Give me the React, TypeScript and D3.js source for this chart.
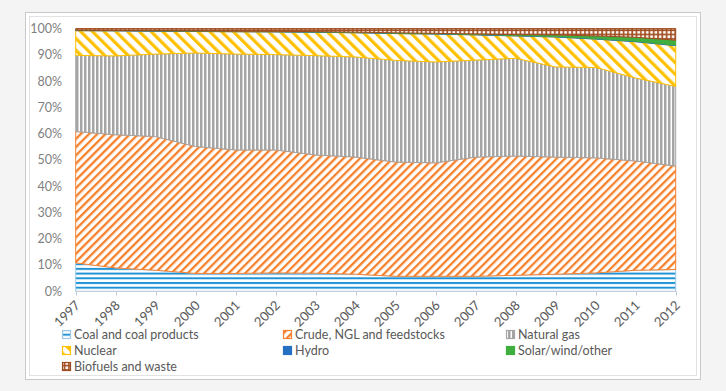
import React from 'react';
import * as d3 from 'd3';

const years = [1997, 1998, 1999, 2000, 2001, 2002, 2003, 2004, 2005, 2006, 2007, 2008, 2009, 2010, 2011, 2012];
const coal = [10.8, 8.9, 8.0, 6.8, 6.8, 7.0, 6.9, 6.5, 5.7, 5.7, 5.7, 6.1, 6.5, 7.0, 8.0, 8.3];
const crude = [50.0, 50.7, 50.9, 48.3, 47.0, 46.8, 45.0, 44.6, 43.5, 43.2, 45.4, 45.4, 44.6, 43.8, 41.6, 39.4];
const naturalGas = [29.0, 30.0, 31.4, 35.6, 36.5, 36.3, 37.8, 38.1, 38.7, 38.4, 36.9, 37.2, 34.3, 34.4, 31.6, 30.3];
const nuclear = [9.4, 9.5, 8.7, 8.2, 8.5, 8.6, 8.9, 9.2, 10.2, 10.6, 9.6, 8.5, 11.4, 10.8, 13.8, 15.5];
const hydro = [0.2, 0.2, 0.2, 0.2, 0.2, 0.2, 0.2, 0.2, 0.2, 0.2, 0.2, 0.2, 0.2, 0.2, 0.2, 0.2];
const solar = [0.0, 0.0, 0.0, 0.0, 0.0, 0.05, 0.05, 0.05, 0.1, 0.1, 0.15, 0.3, 0.6, 1.0, 1.5, 1.9];
const biofuels = [0.6, 0.7, 0.8, 0.9, 1.0, 1.05, 1.15, 1.35, 1.6, 1.8, 2.05, 2.3, 2.4, 2.8, 3.3, 4.4];

const seriesNames = [
  'Coal and coal products',
  'Crude, NGL and feedstocks',
  'Natural gas',
  'Nuclear',
  'Hydro',
  'Solar/wind/other',
  'Biofuels and waste',
];
const yTicks = [0, 10, 20, 30, 40, 50, 60, 70, 80, 90, 100];

const keys = ['coal', 'crude', 'gas', 'nuclear', 'hydro', 'solar', 'bio'];
const fills = ['url(#pCoal)', 'url(#pCrude)', 'url(#pGas)', 'url(#pNuc)', '#2670c4', '#3fae3f', 'url(#pBio)'];
const strokes = ['#9cc8ea', '#f58232', '#a5a5a5', '#ffc000', '#2670c4', '#3fae3f', '#9e4a1e'];

export default function App() {
  const W = 726, H = 391;
  const x = d3.scaleLinear().domain([1997, 2012]).range([75.7, 675.7]);
  const y = d3.scaleLinear().domain([0, 1]).range([291.3, 28.6]);

  const rows = years.map((yr, i) => ({
    year: yr,
    coal: coal[i],
    crude: crude[i],
    gas: naturalGas[i],
    nuclear: nuclear[i],
    hydro: hydro[i],
    solar: solar[i],
    bio: biofuels[i],
  }));
  const stacked = d3.stack<any>().keys(keys).offset(d3.stackOffsetExpand)(rows);
  const area = d3
    .area<any>()
    .x((d) => x(d.data.year))
    .y0((d) => y(d[0]))
    .y1((d) => y(d[1]));

  const font = 'Lato, "Open Sans", sans-serif';
  const legendCols = [62, 283, 506];
  const legendRows = [335, 351, 367];

  return (
    <svg width={W} height={H} style={{ position: 'absolute', left: 0, top: 0 }}>
      <defs>
        <pattern id="pCoal" width={8} height={4.7} patternUnits="userSpaceOnUse">
          <rect width={8} height={4.7} fill="#fff" />
          <rect y={0} width={8} height={2} fill="#1f93d5" />
        </pattern>
        <pattern id="pCrude" width={5.8} height={5.8} patternUnits="userSpaceOnUse" patternTransform="rotate(45)">
          <rect width={5.8} height={5.8} fill="#fff" />
          <rect width={2.3} height={5.8} fill="#f7802a" />
        </pattern>
        <pattern id="pGas" width={4} height={4} patternUnits="userSpaceOnUse">
          <rect width={4} height={4} fill="#fff" />
          <rect width={2.5} height={4} fill="#a5a5a5" />
        </pattern>
        <pattern id="pNuc" width={8.3} height={8.3} patternUnits="userSpaceOnUse" patternTransform="rotate(-45)">
          <rect width={8.3} height={8.3} fill="#fff" />
          <rect width={3.2} height={8.3} fill="#ffc000" />
        </pattern>
        <pattern id="pBio" width={4.3} height={4.3} patternUnits="userSpaceOnUse">
          <rect width={4.3} height={4.3} fill="#a34f22" />
          <rect x={1} y={1} width={2.6} height={2.6} fill="#fff" />
        </pattern>
      </defs>

      <rect x={0} y={0} width={W} height={H} fill="#f4f4f4" />
      <rect x={25.5} y={12.5} width={675} height={367} fill="#fff" stroke="#c9c9c9" />
      <rect x={29.5} y={16.5} width={667} height={359} fill="#fff" stroke="#e2e2e2" />

      {stacked.map((s, i) => (
        <path key={keys[i]} d={area(s as any) || ''} fill={fills[i]} stroke={strokes[i]} strokeWidth={1} />
      ))}

      {/* x axis */}
      <line x1={x(1997)} x2={x(2012)} y1={291.5} y2={291.5} stroke="#c3cdd9" strokeWidth={1} />
      {years.map((yr) => (
        <line key={'t' + yr} x1={Math.round(x(yr)) + 0.5} x2={Math.round(x(yr)) + 0.5} y1={291.5} y2={295.5} stroke="#c3cdd9" />
      ))}
      {years.map((yr) => (
        <text
          key={'l' + yr}
          transform={`translate(${x(yr) + 2},${303}) rotate(-45)`}
          textAnchor="end"
          dy="0.35em"
          fontFamily={font}
          fontSize={13}
          fill="#595959"
        >
          {yr}
        </text>
      ))}

      {/* y axis labels */}
      {yTicks.map((t) => (
        <text
          key={'y' + t}
          x={62}
          y={y(t / 100)}
          dy="0.35em"
          textAnchor="end"
          fontFamily={font}
          fontSize={12.5}
          fill="#7f7f7f"
        >
          {t}%
        </text>
      ))}

      {/* legend */}
      {seriesNames.map((name, i) => {
        const cx = legendCols[i % 3];
        const cy = legendRows[Math.floor(i / 3)];
        return (
          <g key={name}>
            <rect x={cx + 0.5} y={cy - 4.5} width={8} height={8} fill={fills[i]} stroke={strokes[i]} strokeWidth={1.2} />
            <text x={cx + 12} y={cy} dy="0.35em" fontFamily={font} fontSize={12.5} fill="#595959">
              {name}
            </text>
          </g>
        );
      })}
    </svg>
  );
}
